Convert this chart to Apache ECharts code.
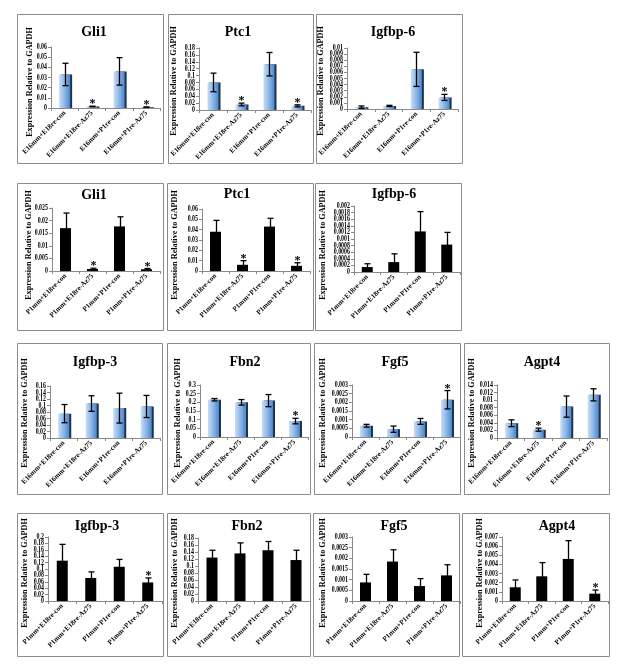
<!DOCTYPE html>
<html><head><meta charset="utf-8">
<script src="https://cdn.jsdelivr.net/npm/echarts@6/dist/echarts.min.js"></script>
<style>html,body{margin:0;padding:0;background:#fff}#c{width:623px;height:668px}</style>
</head><body><div id="c"></div>
<script>
// ---- categories ----
const catsE16 = ['E16mm+E18re-con', 'E16mm+E18re-Az75', 'E16mm+P1re-con', 'E16mm+P1re-Az75'];
const catsP1 = ['P1mm+E18re-con', 'P1mm+E18re-Az75', 'P1mm+P1re-con', 'P1mm+P1re-Az75'];
const yAxisName = 'Expression Relative to GAPDH';

// ---- data (value, error, significance flag) ----
const gli1E16 = [0.033, 0.0015, 0.036, 0.0008];
const gli1E16Err = [0.011, 0.0003, 0.0135, 0.0002];
const gli1E16Sig = [0, 1, 0, 1];
const ptc1E16 = [0.080, 0.016, 0.133, 0.012];
const ptc1E16Err = [0.027, 0.004, 0.034, 0.003];
const ptc1E16Sig = [0, 1, 0, 1];
const igfbp6E16 = [0.0003, 0.0005, 0.0065, 0.0019];
const igfbp6E16Err = [0.0002, 0.0001, 0.0028, 0.0005];
const igfbp6E16Sig = [0, 0, 0, 1];

const gli1P1 = [0.017, 0.0008, 0.0177, 0.0007];
const gli1P1Err = [0.006, 0.0003, 0.0038, 0.0003];
const gli1P1Sig = [0, 1, 0, 1];
const ptc1P1 = [0.038, 0.006, 0.043, 0.005];
const ptc1P1Err = [0.011, 0.004, 0.008, 0.003];
const ptc1P1Sig = [0, 1, 0, 1];
const igfbp6P1 = [0.00015, 0.0003, 0.00123, 0.00083];
const igfbp6P1Err = [0.0001, 0.00025, 0.0006, 0.00037];
const igfbp6P1Sig = [0, 0, 0, 0];

const igfbp3E16 = [0.075, 0.106, 0.092, 0.097];
const igfbp3E16Err = [0.028, 0.024, 0.046, 0.034];
const igfbp3E16Sig = [0, 0, 0, 0];
const fbn2E16 = [0.215, 0.200, 0.210, 0.092];
const fbn2E16Err = [0.007, 0.016, 0.035, 0.016];
const fbn2E16Sig = [0, 0, 0, 1];
const fgf5E16 = [0.00065, 0.00045, 0.0009, 0.00215];
const fgf5E16Err = [0.00008, 0.00018, 0.00017, 0.00053];
const fgf5E16Sig = [0, 0, 0, 1];
const agpt4E16 = [0.0039, 0.0022, 0.0083, 0.0114];
const agpt4E16Err = [0.0009, 0.0004, 0.0028, 0.0016];
const agpt4E16Sig = [0, 1, 0, 0];

const igfbp3P1 = [0.126, 0.072, 0.107, 0.058];
const igfbp3P1Err = [0.051, 0.019, 0.023, 0.014];
const igfbp3P1Sig = [0, 0, 0, 1];
const fbn2P1 = [0.124, 0.136, 0.145, 0.117];
const fbn2P1Err = [0.021, 0.030, 0.025, 0.028];
const fbn2P1Sig = [0, 0, 0, 0];
const fgf5P1 = [0.00087, 0.00185, 0.0007, 0.0012];
const fgf5P1Err = [0.00038, 0.00055, 0.00035, 0.0005];
const fgf5P1Sig = [0, 0, 0, 0];
const agpt4P1 = [0.0015, 0.0027, 0.0046, 0.0008];
const agpt4P1Err = [0.0008, 0.0015, 0.002, 0.0004];
const agpt4P1Sig = [0, 0, 0, 1];

// ---- y axis scales ----
const axisMax = [0.06, 0.18, 0.01, 0.025, 0.06, 0.002, 0.16, 0.3, 0.003, 0.014, 0.2, 0.18, 0.003, 0.007];
const axisStep = [0.01, 0.02, 0.001, 0.005, 0.01, 0.0002, 0.02, 0.05, 0.0005, 0.002, 0.02, 0.02, 0.0005, 0.001];

// ---- panel definitions (data refs) ----
const panelData = [
  ['Gli1', catsE16, gli1E16, gli1E16Err, gli1E16Sig, true],
  ['Ptc1', catsE16, ptc1E16, ptc1E16Err, ptc1E16Sig, true],
  ['Igfbp-6', catsE16, igfbp6E16, igfbp6E16Err, igfbp6E16Sig, true],
  ['Gli1', catsP1, gli1P1, gli1P1Err, gli1P1Sig, false],
  ['Ptc1', catsP1, ptc1P1, ptc1P1Err, ptc1P1Sig, false],
  ['Igfbp-6', catsP1, igfbp6P1, igfbp6P1Err, igfbp6P1Sig, false],
  ['Igfbp-3', catsE16, igfbp3E16, igfbp3E16Err, igfbp3E16Sig, true],
  ['Fbn2', catsE16, fbn2E16, fbn2E16Err, fbn2E16Sig, true],
  ['Fgf5', catsE16, fgf5E16, fgf5E16Err, fgf5E16Sig, true],
  ['Agpt4', catsE16, agpt4E16, agpt4E16Err, agpt4E16Sig, true],
  ['Igfbp-3', catsP1, igfbp3P1, igfbp3P1Err, igfbp3P1Sig, false],
  ['Fbn2', catsP1, fbn2P1, fbn2P1Err, fbn2P1Sig, false],
  ['Fgf5', catsP1, fgf5P1, fgf5P1Err, fgf5P1Sig, false],
  ['Agpt4', catsP1, agpt4P1, agpt4P1Err, agpt4P1Sig, false]
];

// ---- layout: box [x,y,w,h], plot [L,T,R,B], title x,y, y-label x,y ----
const layout = [
  {box:[17,14,146,149], plot:[51,47,160,108], tx:94, ty:32, lx:30, ly:82},
  {box:[168,14,145,149], plot:[199,48,311,110], tx:238, ty:32, lx:174, ly:81},
  {box:[316,14,146,149], plot:[347,48,458,109], tx:393, ty:32, lx:321, ly:81},
  {box:[17,183,146,147], plot:[52,208,160,271], tx:94, ty:195, lx:29, ly:245},
  {box:[167,183,146,147], plot:[202,209,310,271], tx:237, ty:194, lx:175, ly:245},
  {box:[315,183,146,147], plot:[354,206,460,272], tx:394, ty:194, lx:323, ly:245},
  {box:[17,343,145,151], plot:[50,386,160,438], tx:95, ty:362, lx:25, ly:413},
  {box:[167,343,143,151], plot:[200,385,308,437], tx:245, ty:362, lx:178, ly:413},
  {box:[314,343,146,151], plot:[352,385,460,437], tx:395, ty:362, lx:323, ly:413},
  {box:[464,343,145,151], plot:[497,385,607,438], tx:542, ty:362, lx:472, ly:413},
  {box:[17,513,146,143], plot:[48,537,162,601], tx:97, ty:526, lx:25, ly:573},
  {box:[167,513,143,143], plot:[198,538,310,601], tx:247, ty:526, lx:175, ly:573},
  {box:[313,513,146,143], plot:[352,537,460,601], tx:394, ty:526, lx:323, ly:573},
  {box:[462,513,147,143], plot:[502,537,608,601], tx:557, ty:526, lx:480, ly:573}
];

const SERIF = '"Liberation Serif", "Times New Roman", serif';
const chart = echarts.init(document.getElementById('c'), null, {renderer: 'canvas'});

const grids = [], xAxes = [], yAxes = [], series = [], graphics = [];
const blueGrad = new echarts.graphic.LinearGradient(0, 0, 1, 0, [
  {offset: 0, color: '#c9ddf3'},
  {offset: 0.55, color: '#86b2e4'},
  {offset: 1, color: '#4a86cc'}
]);

function tickValues(max, step) {
  const n = Math.round(max / step);
  const out = [];
  for (let k = 0; k <= n; k++) out.push(parseFloat((k * step).toFixed(8)));
  return out;
}

const allTicks = [];
panelData.forEach(function (p, i) {
  const L = layout[i];
  const [title, cats, vals, errs, sigs, blue] = p;
  const ticks = tickValues(axisMax[i], axisStep[i]);
  allTicks.push(ticks);
  grids.push({left: L.plot[0], top: L.plot[1], width: L.plot[2] - L.plot[0], height: L.plot[3] - L.plot[1], containLabel: false});
  xAxes.push({
    type: 'category', gridIndex: i, data: cats,
    axisLine: {show: true, lineStyle: {color: '#8a8a8a', width: 1}},
    axisTick: {show: true, length: 3, interval: 0, lineStyle: {color: '#8a8a8a'}},
    axisLabel: {interval: 0, rotate: 45, margin: 4, color: '#000', fontFamily: SERIF, fontWeight: 'bold', fontSize: 7},
    splitLine: {show: false}
  });
  yAxes.push({
    type: 'value', gridIndex: i, min: 0, max: axisMax[i],
    axisLine: {show: true, lineStyle: {color: '#8a8a8a', width: 1}},
    axisTick: {show: true, length: 3, customValues: ticks, lineStyle: {color: '#8a8a8a'}},
    axisLabel: {show: false},
    splitLine: {show: false}
  });
  series.push({
    type: 'bar', xAxisIndex: i, yAxisIndex: i, data: vals, barWidth: 11,
    itemStyle: blue ? {color: blueGrad, shadowColor: '#1d3350', shadowBlur: 0.5, shadowOffsetX: 2} : {color: '#000'},
    silent: true, animation: false
  });
  series.push({
    type: 'custom', xAxisIndex: i, yAxisIndex: i, animation: false, silent: true,
    data: vals.map(function (v, k) { return [k, v, errs[k], sigs[k]]; }),
    encode: {x: 0, y: 1},
    z: 5,
    renderItem: function (params, api) {
      const k = api.value(0), v = api.value(1), e = api.value(2), s = api.value(3);
      const top = api.coord([k, v + e]);
      const bot = api.coord([k, Math.max(0, v - e)]);
      const cx = Math.round(top[0]) + 0.5;
      const st = {stroke: '#000', lineWidth: 1.3};
      const ch = [
        {type: 'line', shape: {x1: cx, y1: top[1], x2: cx, y2: bot[1]}, style: st},
        {type: 'line', shape: {x1: cx - 3, y1: top[1], x2: cx + 3, y2: top[1]}, style: st},
        {type: 'line', shape: {x1: cx - 3, y1: bot[1], x2: cx + 3, y2: bot[1]}, style: st}
      ];
      if (s) {
        ch.push({type: 'text', x: cx, y: top[1] - 2,
          style: {text: '*', font: 'bold 12px ' + SERIF, fill: '#000', textAlign: 'center', textVerticalAlign: 'middle', align: 'center', verticalAlign: 'middle'}});
      }
      return {type: 'group', children: ch};
    }
  });
  graphics.push({type: 'rect', shape: {x: L.box[0] + 0.5, y: L.box[1] + 0.5, width: L.box[2], height: L.box[3]},
    style: {fill: 'none', stroke: '#8c8c8c', lineWidth: 1}, silent: true, z: 0});
  graphics.push({type: 'text', x: L.tx, y: L.ty,
    style: {text: title, font: 'bold 14px ' + SERIF, fill: '#000', textAlign: 'center', textVerticalAlign: 'middle', align: 'center', verticalAlign: 'middle'}, silent: true});
  graphics.push({type: 'text', x: L.lx, y: L.ly, rotation: Math.PI / 2,
    style: {text: yAxisName, font: 'bold 8.2px ' + SERIF, fill: '#000', textAlign: 'center', textVerticalAlign: 'middle', align: 'center', verticalAlign: 'middle'}, silent: true});
});

chart.setOption({
  animation: false,
  backgroundColor: '#fff',
  grid: grids, xAxis: xAxes, yAxis: yAxes, series: series,
  graphic: graphics
});

// y tick labels placed through the y scale of each axis (narrow, as in the source figure)
const tickLabels = [];
allTicks.forEach(function (ticks, i) {
  ticks.forEach(function (t) {
    const pt = chart.convertToPixel({xAxisIndex: i, yAxisIndex: i}, [0, t]);
    tickLabels.push({type: 'text', x: layout[i].plot[0] - 4, y: pt[1], scaleX: 0.74, silent: true,
      style: {text: String(t), font: 'bold 8px ' + SERIF, fill: '#000', textAlign: 'right', textVerticalAlign: 'middle', align: 'right', verticalAlign: 'middle'}});
  });
});
chart.setOption({graphic: graphics.concat(tickLabels)});
</script></body></html>
